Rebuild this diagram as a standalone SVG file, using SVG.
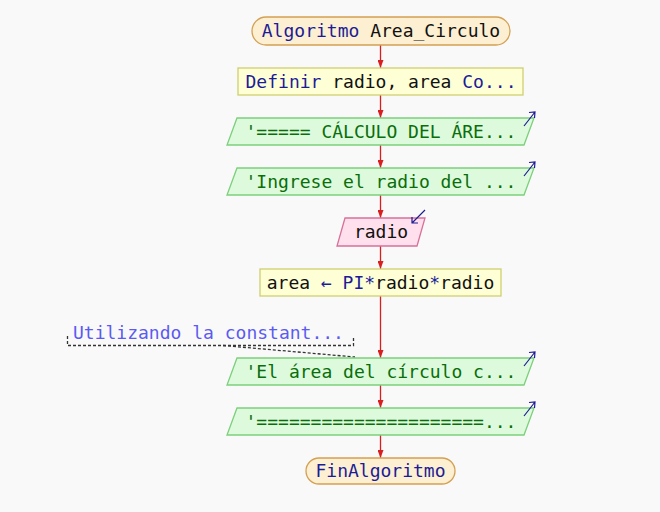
<svg xmlns="http://www.w3.org/2000/svg" width="660" height="512" viewBox="0 0 660 512">
  <defs>
    <marker id="arrow" viewBox="0 0 8 6" markerWidth="8" markerHeight="6" refX="8" refY="3" orient="auto" markerUnits="userSpaceOnUse">
      <path d="M0,0 L8,3 L0,6 Z" fill="#d81e1e"/>
    </marker>
    <style>
      text { font-family: "DejaVu Sans Mono", "Liberation Mono", monospace; font-size: 18px; }
      .term { fill: #fdefd2; stroke: #d4a052; stroke-width: 1.3; }
      .proc { fill: #ffffd6; stroke: #cfcf72; stroke-width: 1.3; }
      .out { fill: #ddfadd; stroke: #7ccf7c; stroke-width: 1.3; }
      .in { fill: #ffe0ec; stroke: #d8709a; stroke-width: 1.3; }
      .kw { fill: #1c1c96; }
      .id { fill: #111111; }
      .str { fill: #0a6e0a; }
      .cmt { fill: #5b5bf2; }
      .flow { stroke: #d81e1e; stroke-width: 1.3; fill: none; marker-end: url(#arrow); }
      .io-arrow { stroke: #1c1c96; stroke-width: 1.2; fill: none; }
      .dots { stroke: #333333; stroke-width: 1.3; fill: none; stroke-dasharray: 3 2; }
    </style>
  </defs>

  <rect x="0" y="0" width="660" height="512" fill="#f9f9f9"/>

  <!-- flow lines -->
  <g id="connectors">
    <line class="flow" x1="380.5" y1="45" x2="380.5" y2="68"/>
    <line class="flow" x1="380.5" y1="95" x2="380.5" y2="118"/>
    <line class="flow" x1="380.5" y1="145" x2="380.5" y2="168"/>
    <line class="flow" x1="380.5" y1="195" x2="380.5" y2="218"/>
    <line class="flow" x1="380.5" y1="246" x2="380.5" y2="269"/>
    <line class="flow" x1="380.5" y1="296" x2="380.5" y2="358"/>
    <line class="flow" x1="380.5" y1="385" x2="380.5" y2="408"/>
    <line class="flow" x1="380.5" y1="435" x2="380.5" y2="458"/>
    <!-- comment attachment -->
    <line class="dots" x1="223" y1="345.5" x2="355" y2="357"/>
  </g>

  <g id="start">
    <rect class="term" x="252" y="17" width="258" height="28" rx="14" ry="14"/>
    <text x="381" y="37" text-anchor="middle"><tspan class="kw">Algoritmo</tspan><tspan class="id"> Area_Circulo</tspan></text>
  </g>

  <g id="definir">
    <rect class="proc" x="238" y="68" width="285" height="27"/>
    <text x="381" y="88" text-anchor="middle"><tspan class="kw">Definir</tspan><tspan class="id"> radio, area </tspan><tspan class="kw">Co...</tspan></text>
  </g>

  <g id="escribir1">
    <polygon class="out" points="237,118 534,118 524,145 227,145"/>
    <text class="str" x="381" y="138" text-anchor="middle">'===== CÁLCULO DEL ÁRE...</text>
    <path class="io-arrow" d="M524,126 L535,112 M529,112.5 L535,112 L534.5,118"/>
  </g>

  <g id="escribir2">
    <polygon class="out" points="237,168 534,168 524,195 227,195"/>
    <text class="str" x="381" y="188" text-anchor="middle">'Ingrese el radio del ...</text>
    <path class="io-arrow" d="M524,176 L535,162 M529,162.5 L535,162 L534.5,168"/>
  </g>

  <g id="leer">
    <polygon class="in" points="345,218 425,218 417,246 337,246"/>
    <text class="id" x="381" y="238" text-anchor="middle">radio</text>
    <path class="io-arrow" d="M425,210 L412,223 M412,217 L412,223 L418,223"/>
  </g>

  <g id="asignar">
    <rect class="proc" x="260" y="269" width="241" height="27"/>
    <text x="380.5" y="289" text-anchor="middle"><tspan class="id">area </tspan><tspan class="kw">← PI*</tspan><tspan class="id">radio</tspan><tspan class="kw">*</tspan><tspan class="id">radio</tspan></text>
  </g>

  <g id="comentario">
    <text class="cmt" x="73" y="339">Utilizando la constant...</text>
    <path class="dots" d="M67.5,336 L67.5,345.5 L353.5,345.5 L353.5,336"/>
  </g>

  <g id="escribir3">
    <polygon class="out" points="237,358 534,358 524,385 227,385"/>
    <text class="str" x="381" y="378" text-anchor="middle">'El área del círculo c...</text>
    <path class="io-arrow" d="M524,366 L535,352 M529,352.5 L535,352 L534.5,358"/>
  </g>

  <g id="escribir4">
    <polygon class="out" points="237,408 534,408 524,435 227,435"/>
    <text class="str" x="381" y="428" text-anchor="middle">'=====================...</text>
    <path class="io-arrow" d="M524,416 L535,402 M529,402.5 L535,402 L534.5,408"/>
  </g>

  <g id="fin">
    <rect class="term" x="306" y="458" width="149" height="26" rx="13" ry="13"/>
    <text class="kw" x="380.5" y="477" text-anchor="middle">FinAlgoritmo</text>
  </g>
</svg>
